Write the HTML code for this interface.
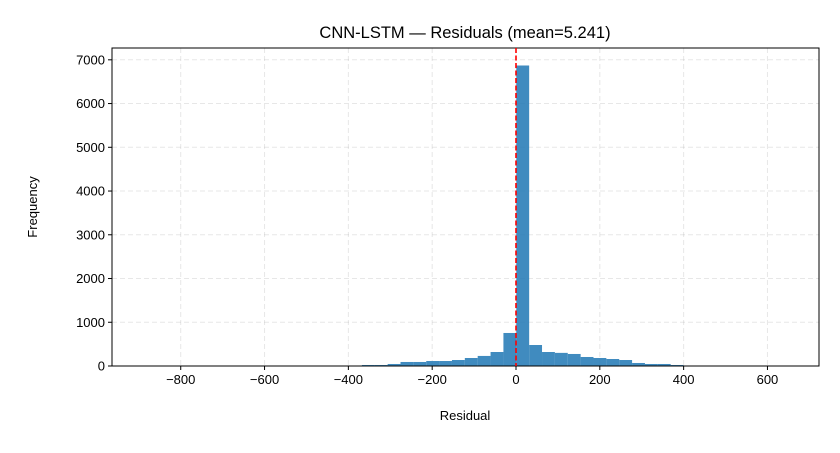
<!DOCTYPE html>
<html><head><meta charset="utf-8"><style>
html,body{margin:0;padding:0;background:#fff;}
svg text{font-family:"Liberation Sans","DejaVu Sans",sans-serif;fill:#000;}
</style></head><body>
<svg id="chart" width="840" height="448" viewBox="0 0 840 448">
<text x="465" y="38" text-anchor="middle" font-size="16.5">CNN-LSTM — Residuals (mean=5.241)</text>
<g id="grid"></g>
<g id="bars"></g>
<g id="xticks"></g>
<g id="yticks"></g>
<rect x="112" y="48" width="707" height="318" fill="none" stroke="#000" stroke-width="1"/>
<text x="465" y="420" text-anchor="middle" font-size="13">Residual</text>
<text transform="translate(37,207) rotate(-90)" text-anchor="middle" font-size="13">Frequency</text>
</svg>
<script>
const binStart = -889.6;
const binWidth = 30.7;
const counts = [1,1,1,1,2,1,1,2,2,1,2,2,3,3,4,4,8,23,23,46,92,92,114,114,137,183,230,320,755,6870,480,320,300,275,206,183,160,137,69,46,46,23,5,3,2,2,1,1,1,1];
const xTicks = [-800,-600,-400,-200,0,200,400,600];
const yTicks = [0,1000,2000,3000,4000,5000,6000,7000];
const refLineValue = 0;

const NS="http://www.w3.org/2000/svg";
const X0=112,X1=819,Y0=366,Y1=48;
const xMin=-964,xMax=723,yMax=7270;
function xs(v){return X0+(v-xMin)/(xMax-xMin)*(X1-X0);}
function ys(v){return Y0-v/yMax*(Y0-Y1);}
function mk(tag,attrs,parent){const e=document.createElementNS(NS,tag);for(const k in attrs)e.setAttribute(k,attrs[k]);parent.appendChild(e);return e;}
const grid=document.getElementById('grid'),bars=document.getElementById('bars'),xt=document.getElementById('xticks'),yt=document.getElementById('yticks');
xTicks.forEach(v=>{
  const x=xs(v);
  const g=mk('line',{x1:x,x2:x,y1:Y1,y2:Y0,stroke:'#b0b0b0','stroke-opacity':0.3,'stroke-dasharray':'5,3'},grid);
  
  
  mk('line',{x1:x,x2:x,y1:Y0,y2:Y0+4,stroke:'#000'},xt);
  const t=mk('text',{x:x,y:Y0+18,'text-anchor':'middle','font-size':13},xt);
  t.textContent=(v<0?'\u2212'+(-v):v);
  
  
});
yTicks.forEach(v=>{
  const y=ys(v);
  const g=mk('line',{x1:X0,x2:X1,y1:y,y2:y,stroke:'#b0b0b0','stroke-opacity':0.3,'stroke-dasharray':'5,3'},grid);
  
  
  mk('line',{x1:X0-4,x2:X0,y1:y,y2:y,stroke:'#000'},yt);
  const t=mk('text',{x:X0-7,y:y+4.5,'text-anchor':'end','font-size':13},yt);
  t.textContent=v;
  
  
});
counts.forEach((c,i)=>{
  const a=binStart+i*binWidth,b=a+binWidth;
  const r=mk('rect',{x:xs(a),y:ys(c),width:xs(b)-xs(a),height:Y0-ys(c),fill:'#1f77b4','fill-opacity':0.85},bars);
  
  
});
const m=mk('line',{x1:xs(refLineValue),x2:xs(refLineValue),y1:Y1,y2:Y0,stroke:'#ff0000','stroke-width':1.6,'stroke-dasharray':'5,2.5'},document.getElementById('chart'));


</script>
</body></html>
